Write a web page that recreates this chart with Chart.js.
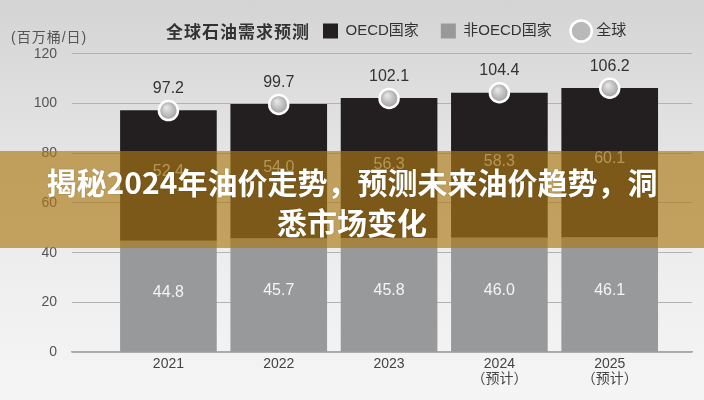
<!DOCTYPE html>
<html>
<head>
<meta charset="utf-8">
<script src="https://cdn.jsdelivr.net/npm/chart.js@4.4.1/dist/chart.umd.min.js"></script>
<style>
  html, body { margin: 0; padding: 0; }
  #wrap {
    position: relative; width: 704px; height: 400px; overflow: hidden;
    background: linear-gradient(to bottom, #d4d4d4 0%, #e3e3e3 35%, #efefef 70%, #f5f5f5 100%);
    font-family: "Liberation Sans", "Noto Sans CJK SC", sans-serif;
  }
  #c { position: absolute; left: 0; top: 0; }
  .unit { position: absolute; left: 11px; top: 28px; font-size: 14px; line-height: 18px; color: #555; letter-spacing: 1px; }
  .ctitle { position: absolute; left: 166px; top: 20px; font-size: 17px; line-height: 22px; color: #333; font-weight: bold; letter-spacing: 1px; font-family: "Noto Sans CJK SC", sans-serif; }
  .banner {
    position: absolute; left: 0; top: 151px; width: 704px; height: 97px; box-sizing: border-box; padding-top: 3px;
    background: rgba(172, 122, 20, 0.65);
    display: flex; align-items: center; justify-content: center; text-align: center;
    color: #fff; font-family: "Noto Sans CJK SC", sans-serif; font-weight: bold; font-size: 30px; line-height: 40px;
    text-shadow: 0 0 2px rgba(0,0,0,0.2);
  }
</style>
</head>
<body>
<div id="wrap">
  <canvas id="c" width="704" height="400"></canvas>
  <div class="unit">(百万桶/日)</div>
  <div class="ctitle">全球石油需求预测</div>
  <div class="banner"><div>揭秘2024年油价走势，预测未来油价趋势，洞<br>悉市场变化</div></div>
</div>
<script>
// ---- data ----
const years = ['2021', '2022', '2023', '2024', '2025'];
const yearNotes = ['', '', '', '（预计）', '（预计）'];
const seriesNames = ['非OECD国家', 'OECD国家', '全球'];
const nonOecd = [44.8, 45.7, 45.8, 46.0, 46.1];
const oecd = [52.4, 54.0, 56.3, 58.3, 60.1];
const world = [97.2, 99.7, 102.1, 104.4, 106.2];
const yTicks = [0, 20, 40, 60, 80, 100, 120];

const FONT = '"Liberation Sans", "Noto Sans CJK SC", sans-serif';
Chart.defaults.font.family = FONT;

const toPts = arr => arr.map((v, i) => ({ x: i + 1, y: v }));

function pointFill(c) {
  try {
    const chart = c.chart;
    if (c.type !== 'data' || !chart.chartArea || !c.parsed) return '#b9b9b9';
    const x = chart.scales.x.getPixelForValue(c.parsed.x);
    const y = chart.scales.y.getPixelForValue(c.parsed.y);
    const g = chart.ctx.createRadialGradient(x - 2, y - 3, 1, x, y, 10);
    g.addColorStop(0, '#e4e4e4');
    g.addColorStop(1, '#9c9c9c');
    return g;
  } catch (e) { return '#b9b9b9'; }
}

const valueLabels = {
  id: 'valueLabels',
  afterDatasetsDraw(chart) {
    const ctx = chart.ctx;
    ctx.save();
    ctx.font = '16px ' + FONT;
    ctx.textAlign = 'center';
    ctx.textBaseline = 'middle';
    chart.data.datasets.forEach((ds, di) => {
      const meta = chart.getDatasetMeta(di);
      meta.data.forEach((el, i) => {
        const txt = ds.data[i].y.toFixed(1);
        if (ds.type === 'line') {
          ctx.fillStyle = '#333';
          ctx.fillText(txt, el.x, el.y - 22);
        } else {
          ctx.fillStyle = ds.label === seriesNames[0] ? '#f4f4f4' : '#c8c8c8';
          ctx.fillText(txt, el.x, (el.y + el.base) / 2 - 4);
        }
      });
    });
    ctx.restore();
  }
};

const legendShift = {
  id: 'legendShift',
  beforeDraw(chart) {
    if (chart.legend) chart.legend.left = 323 - chart.legend.options.labels.padding;
  }
};

const legendRank = { 'OECD国家': 0, '非OECD国家': 1, '全球': 2 };

new Chart(document.getElementById('c'), {
  data: {
    datasets: [
      {
        type: 'line', label: seriesNames[2], data: toPts(world), showLine: false,
        pointRadius: 9.5, pointHoverRadius: 9.5, pointBorderWidth: 2.5, pointBorderColor: '#ffffff',
        pointBackgroundColor: pointFill, backgroundColor: '#b9b9b9', stack: 'w', order: 0
      },
      {
        type: 'bar', label: seriesNames[0], data: toPts(nonOecd), backgroundColor: '#98999b',
        barThickness: 96, stack: 's', order: 1
      },
      {
        type: 'bar', label: seriesNames[1], data: toPts(oecd), backgroundColor: '#231f20',
        barThickness: 96, stack: 's', order: 1
      }
    ]
  },
  options: {
    responsive: false,
    animation: false,
    devicePixelRatio: 1,
    layout: { padding: { top: 1.5, right: 9, left: 0, bottom: 0 } },
    plugins: {
      tooltip: { enabled: false },
      title: { display: false },
      legend: {
        display: true, position: 'top', align: 'start',
        labels: {
          usePointStyle: true, boxHeight: 15, boxWidth: 15, padding: 22, color: '#333',
          font: { size: 15, family: FONT },
          sort: (a, b) => legendRank[a.text] - legendRank[b.text],
          generateLabels(chart) {
            const items = Chart.defaults.plugins.legend.labels.generateLabels(chart);
            items.forEach(it => {
              if (it.text === seriesNames[2]) {
                it.pointStyle = 'circle'; it.fillStyle = '#b9b9b9'; it.strokeStyle = '#ffffff'; it.lineWidth = 2.5;
              } else {
                it.pointStyle = 'rect'; it.lineWidth = 0; it.strokeStyle = it.fillStyle;
              }
            });
            return items;
          }
        }
      }
    },
    scales: {
      x: {
        type: 'linear', stacked: true, min: 0.126, max: 5.746, offset: false,
        afterBuildTicks: s => { s.ticks = years.map((_, i) => ({ value: i + 1 })); },
        afterFit: s => { s.height = 48; },
        grid: { display: false, drawTicks: false, offset: false },
        border: { display: true, color: '#a9a9a9', width: 1.5 },
        ticks: {
          padding: 4, color: '#444', font: { size: 14, lineHeight: 1.1 },
          maxRotation: 0, autoSkip: false,
          callback: v => { const i = Math.round(v) - 1; return yearNotes[i] ? [years[i], yearNotes[i]] : years[i]; }
        }
      },
      y: {
        stacked: true, min: 0, max: 122.2,
        afterBuildTicks: s => { s.ticks = yTicks.map(v => ({ value: v })); },
        afterFit: s => { s.width = 72; },
        grid: { color: '#b3b3b3', lineWidth: 1, drawTicks: false },
        border: { display: false },
        ticks: { padding: 15, color: '#555', font: { size: 14 } }
      }
    }
  },
  plugins: [valueLabels, legendShift]
});
</script>
</body>
</html>
